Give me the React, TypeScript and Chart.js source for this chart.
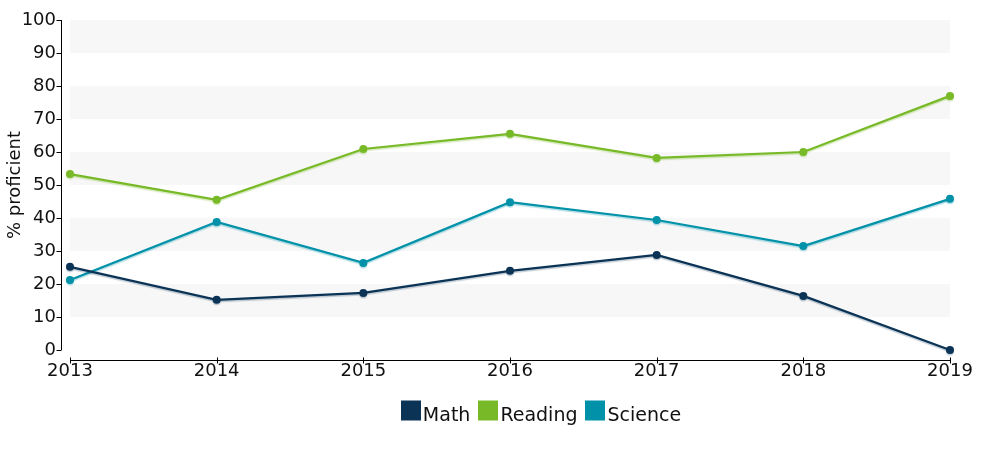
import React, { useEffect, useRef } from "react";
import { Chart, registerables } from "chart.js";

Chart.register(...registerables);

const years = ["2013", "2014", "2015", "2016", "2017", "2018", "2019"];
const mathValues = [25.2, 15.2, 17.3, 24.0, 28.8, 16.4, 0.0];
const readingValues = [53.3, 45.5, 60.9, 65.5, 58.2, 60.0, 77.0];
const scienceValues = [21.2, 38.8, 26.4, 44.8, 39.4, 31.5, 45.8];
const seriesNames = ["Math", "Reading", "Science"];
const seriesColors = ["#0b3356", "#78b928", "#0191a8"];
const shadowColors = ["rgba(11,51,86,0.25)", "rgba(120,185,40,0.3)", "rgba(1,145,168,0.3)"];
const yTickValues = [0, 10, 20, 30, 40, 50, 60, 70, 80, 90, 100];
const bandRanges = [
  [10, 20],
  [30, 40],
  [50, 60],
  [70, 80],
  [90, 100],
];

const FONT = "'DejaVu Sans', Verdana, sans-serif";

const decorPlugin = {
  id: "decor",
  beforeDatasetsDraw(chart: any) {
    const { ctx, chartArea, scales } = chart;
    const y = scales.y;
    ctx.save();
    ctx.fillStyle = "#f7f7f7";
    for (const [a, b] of bandRanges) {
      const y1 = y.getPixelForValue(b);
      const y2 = y.getPixelForValue(a);
      ctx.fillRect(chartArea.left, y1, chartArea.right - chartArea.left, y2 - y1);
    }
    ctx.restore();
  },
  beforeDatasetDraw(chart: any, args: any) {
    const ctx = chart.ctx;
    ctx.save();
    ctx.shadowColor = shadowColors[args.index];
    ctx.shadowOffsetY = 1.5;
    ctx.shadowOffsetX = 0;
    ctx.shadowBlur = 1;
  },
  afterDatasetDraw(chart: any) {
    chart.ctx.restore();
  },
  afterDraw(chart: any) {
    const { ctx, chartArea, scales } = chart;
    const x = scales.x;
    const y = scales.y;
    ctx.save();
    ctx.strokeStyle = "#000";
    ctx.lineWidth = 1;
    // y axis (offset to the left)
    const ax = Math.round(chartArea.left - 9) + 0.5;
    ctx.beginPath();
    ctx.moveTo(ax, y.getPixelForValue(100));
    ctx.lineTo(ax, y.getPixelForValue(0));
    for (const v of yTickValues) {
      const py = Math.round(y.getPixelForValue(v)) + 0.5;
      ctx.moveTo(ax - 5, py);
      ctx.lineTo(ax, py);
    }
    ctx.stroke();
    // x axis (offset below)
    const ay = Math.round(chartArea.bottom + 10) + 0.5;
    ctx.beginPath();
    ctx.moveTo(x.getPixelForValue(0), ay);
    ctx.lineTo(x.getPixelForValue(years.length - 1), ay);
    for (let i = 0; i < years.length; i++) {
      const px = Math.round(x.getPixelForValue(i)) + 0.5;
      ctx.moveTo(px, ay - 3);
      ctx.lineTo(px, ay + 3);
    }
    ctx.stroke();

    // legend
    ctx.font = `19px ${FONT}`;
    ctx.textBaseline = "alphabetic";
    ctx.textAlign = "left";
    const boxSize = 20;
    const gap = 2;
    const spacing = 8;
    const widths = seriesNames.map((n) => ctx.measureText(n).width);
    const total =
      widths.reduce((s, w) => s + boxSize + gap + w, 0) + spacing * (seriesNames.length - 1);
    let cx = 541 - total / 2;
    const boxTop = 400.5;
    seriesNames.forEach((name, i) => {
      ctx.fillStyle = seriesColors[i];
      ctx.fillRect(Math.round(cx), boxTop, boxSize, boxSize);
      ctx.fillStyle = "#111";
      ctx.fillText(name, cx + boxSize + gap, boxTop + 20);
      cx += boxSize + gap + widths[i] + spacing;
    });
    ctx.restore();
  },
};

export default function App() {
  const canvasRef = useRef<HTMLCanvasElement | null>(null);

  useEffect(() => {
    if (!canvasRef.current) return;
    const values = [mathValues, readingValues, scienceValues];
    const chart = new Chart(canvasRef.current, {
      type: "line",
      data: {
        labels: years,
        datasets: seriesNames.map((name, i) => ({
          label: name,
          data: values[i],
          borderColor: seriesColors[i],
          backgroundColor: seriesColors[i],
          pointBackgroundColor: seriesColors[i],
          pointBorderColor: seriesColors[i],
          borderWidth: 2.2,
          pointRadius: 4,
          pointBorderWidth: 0,
          tension: 0,
          fill: false,
          clip: false,
        })),
      },
      options: {
        animation: false,
        responsive: false,
        maintainAspectRatio: false,
        layout: { autoPadding: false, padding: { top: 20, right: 50, left: 0, bottom: 0 } },
        plugins: {
          legend: { display: false },
          tooltip: { enabled: false },
        },
        scales: {
          x: {
            type: "category",
            offset: false,
            grid: { display: false, drawTicks: false },
            border: { display: false },
            ticks: {
              color: "#111",
              font: { family: FONT, size: 18 },
              padding: 11,
              maxRotation: 0,
              autoSkip: false,
            },
            afterFit(scale: any) {
              scale.height = 100;
              scale.paddingLeft = 0;
              scale.paddingRight = 0;
            },
          },
          y: {
            min: 0,
            max: 100,
            grid: { display: false, drawTicks: false },
            border: { display: false },
            ticks: {
              stepSize: 10,
              color: "#111",
              font: { family: FONT, size: 18 },
              padding: 14,
            },
            title: {
              display: true,
              text: "% proficient",
              color: "#111",
              font: { family: FONT, size: 18 },
              padding: { top: 5, bottom: 0 },
            },
            afterFit(scale: any) {
              scale.width = 70;
              scale.paddingTop = 0;
              scale.paddingBottom = 0;
            },
          },
        },
      },
      plugins: [decorPlugin],
    });
    return () => chart.destroy();
  }, []);

  return (
    <div style={{ position: "fixed", left: 0, top: 0, width: 1000, height: 450, background: "#fff" }}>
      <canvas ref={canvasRef} width={1000} height={450} style={{ width: 1000, height: 450 }} />
    </div>
  );
}
